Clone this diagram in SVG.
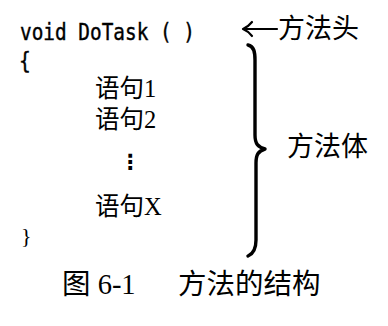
<svg xmlns="http://www.w3.org/2000/svg" width="388" height="326" viewBox="0 0 388 326">
  <style>
    .code { font-family: "DejaVu Sans Mono", "Liberation Mono", monospace; font-size: 22.5px; fill: #000; stroke: #000; stroke-width: 0.4px; }
    .stmt { font-family: "Liberation Serif", "Noto Sans CJK SC", serif; font-size: 24.5px; fill: #000; }
    .label { font-family: "Liberation Serif", "Noto Sans CJK SC", serif; font-size: 27px; fill: #000; }
    .caption { font-family: "Liberation Serif", "Noto Sans CJK SC", serif; font-size: 28.5px; fill: #000; }
    .line { fill: none; stroke: #000; stroke-linecap: round; stroke-linejoin: round; }
  </style>
  <rect width="388" height="326" fill="#fff"/>

  <!-- method source text -->
  <g id="code">
    <text class="code" x="20" y="40" textLength="175" lengthAdjust="spacingAndGlyphs">void DoTask ( )</text>
    <text class="code" x="19" y="69" transform="translate(19 69) scale(0.87 1) translate(-19 -69)">{</text>
    <text class="stmt" x="95" y="97">语句1</text>
    <text class="stmt" x="95" y="128">语句2</text>
    <text x="130" y="169" font-family="DejaVu Sans, sans-serif" font-size="21" font-weight="bold" text-anchor="middle">⋮</text>
    <text class="stmt" x="95" y="215">语句X</text>
    <text x="21" y="243" font-family="Liberation Serif, serif" font-size="22">}</text>
  </g>

  <!-- labels -->
  <g id="head-label">
    <text class="label" x="278" y="38">方法头</text>
  </g>
  <g id="body-label">
    <text class="label" x="287" y="156">方法体</text>
  </g>

  <!-- arrow and brace -->
  <g id="connectors">
    <path class="line" stroke-width="2.2" d="M244,29 L277,29"/>
    <path class="line" stroke-width="2.2" d="M252,22 Q248,27 243,29 Q248,31 252,36"/>
    <path class="line" stroke-width="3.4" d="M248,45 C254,46 255,52 255,60 L255,135 C255,144 258,147 265,149 C258,151 256,155 256,163 L256,240 C256,250 253,254 248,256"/>
  </g>

  <!-- caption -->
  <g id="caption">
    <text class="caption" x="62" y="294">图 6-1</text>
    <text class="caption" x="178" y="294">方法的结构</text>
  </g>
</svg>
